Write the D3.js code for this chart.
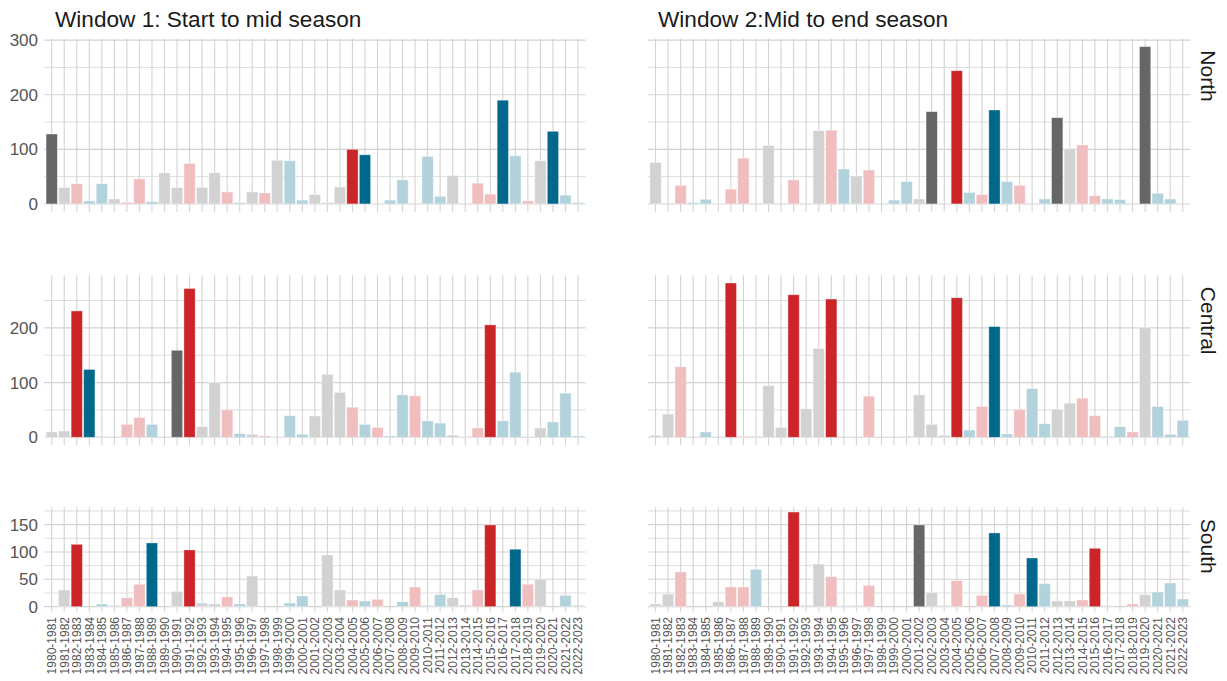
<html>
<script src="https://d3js.org/d3.v7.min.js"></script>
<body style="margin:0; background:white">
<svg height="681" width="1227" id="chart"></svg>
<script>

// seasons on the x axis
var seasons = ["1980-1981","1981-1982","1982-1983","1983-1984","1984-1985","1985-1986","1986-1987",
"1987-1988","1988-1989","1989-1990","1990-1991","1991-1992","1992-1993","1993-1994","1994-1995",
"1995-1996","1996-1997","1997-1998","1998-1999","1999-2000","2000-2001","2001-2002","2002-2003",
"2003-2004","2004-2005","2005-2006","2006-2007","2007-2008","2008-2009","2009-2010","2010-2011",
"2011-2012","2012-2013","2013-2014","2014-2015","2015-2016","2016-2017","2017-2018","2018-2019",
"2019-2020","2020-2021","2021-2022","2022-2023"];

// N = neutral, E = El Nino, L = La Nina
var phase = ["N","N","E","L","L","N","E","E","L","N","N","E","N","N","E","L","N","E","N","L","L",
"N","N","N","E","L","E","L","L","E","L","L","N","N","E","E","L","L","E","N","L","L","L"];

var w1North = [128,30,37,5.5,37,9,3,46,4,57,30,74,30,57,22,2.5,22,20,80,79,7,17,2.5,31,100,90,0,7,44,0,87,14,52,0,38,18,190,88,5.5,79,133,16,2.5];
var w2North = [76,0,34,2.5,8.5,1,27,84,0,107,0,44,0,134,135,64,51,62,0,7,41,9,169,0,244,21,17,172,41,34,0,9,158,101,108,15,9,8,0,288,19.5,9,0];
var w1Central = [9.7,11.5,231,124,1.8,0,23.6,36,23.6,0,159,272,19.4,100,50,6.7,5.5,2.4,0.5,39.4,5.5,39,115,82,55,23.6,18,2.4,77.6,76,30,26,4,1.8,17,205.5,30,119,0,17,28,80.6,2.4];
var w2Central = [3.6,42.4,129,0,9.7,0,282,1.8,1.8,94.5,18,260.6,52,162.4,252.7,0,0,75,0,0,1.8,77.6,23.6,3.6,255,13.3,56.4,202.4,6,51,89,24.8,51,62.4,71.5,39.4,1.8,19.4,9.7,200.6,56.4,5.5,31];
var w1South = [0,30.5,114,0,4.9,2.4,16.5,41,116.5,0,28,103.7,6.7,4.9,17.7,4.9,56,0,0,6.7,19.5,0,94.5,30.5,12.2,10.4,13.4,0,9,36,2.4,22,16.5,3,30.5,149.4,0,105,41,50,0,20.7,2.4];
var w2South = [4.9,23,63.4,0,0,9,36,36,68.3,0,0,173,2.4,78,55,1.8,2.4,39,0,0,0,149.4,25.6,2.4,47.6,0,20.7,134.8,3,23,89,42,10.4,10.4,12.2,106.7,1.8,0,4.9,22,26.8,43.3,14];

// seasons drawn in the dark shade (index into seasons)
var w1NorthTop = [0,24,25,36,40];
var w2NorthTop = [22,24,27,32,39];
var w1CentralTop = [2,3,10,11,35];
var w2CentralTop = [6,11,14,24,27];
var w1SouthTop = [2,8,11,35,37];
var w2SouthTop = [11,21,27,30,35];

var windowTitles = ["Window 1: Start to mid season", "Window 2:Mid to end season"];
var regions = ["North", "Central", "South"];
var yTicks = [[0,100,200,300], [0,100,200], [0,50,100,150]];
var yMinor = [[50,150,250], [50,150,250], [25,75,125,175]];

var darkCol = {"N": "#666666", "E": "#cc2529", "L": "#00688b"};
var lightCol = {"N": "#d2d2d2", "E": "#f0bebf", "L": "#b2d2dc"};

var svg = d3.select("#chart");

// panel geometry
var cols = [{x0: 44.2, x1: 585.5}, {x0: 648, x1: 1190.3}];
var rows = [
  {top: 38.8, bottom: 211.8, domain: [-14.4, 302.4]},
  {top: 275.3, bottom: 445, domain: [-14.1, 296.1]},
  {top: 507.3, bottom: 611.4, domain: [-8.65, 181.65]}
];

var panels = [
  [{vals: w1North, top: w1NorthTop}, {vals: w2North, top: w2NorthTop}],
  [{vals: w1Central, top: w1CentralTop}, {vals: w2Central, top: w2CentralTop}],
  [{vals: w1South, top: w1SouthTop}, {vals: w2South, top: w2SouthTop}]
];

var font = "Liberation Sans, Arial, sans-serif";

rows.forEach(function(r, ri) {
  var y = d3.scaleLinear().domain(r.domain).range([r.bottom, r.top]);

  cols.forEach(function(c, ci) {
    var x = d3.scaleBand().domain(seasons).range([c.x0, c.x1])
      .paddingInner(0.1).paddingOuter(0.15);
    var p = panels[ri][ci];
    var g = svg.append("g");

    // grid
    g.selectAll(".minor").data(yMinor[ri]).enter().append("line")
      .attr("x1", c.x0).attr("x2", c.x1)
      .attr("y1", function(d) { return y(d); })
      .attr("y2", function(d) { return y(d); })
      .style("stroke", "#dedede").style("stroke-width", 1);
    g.selectAll(".major").data(yTicks[ri]).enter().append("line")
      .attr("x1", c.x0).attr("x2", c.x1)
      .attr("y1", function(d) { return y(d); })
      .attr("y2", function(d) { return y(d); })
      .style("stroke", "#d3d3d3").style("stroke-width", 1.1);
    g.selectAll(".vgrid").data(seasons).enter().append("line")
      .attr("x1", function(d) { return x(d) + x.bandwidth() / 2; })
      .attr("x2", function(d) { return x(d) + x.bandwidth() / 2; })
      .attr("y1", r.top).attr("y2", r.bottom)
      .style("stroke", "#d3d3d3").style("stroke-width", 1.1);

    // bars
    g.selectAll(".bar").data(p.vals).enter().append("rect")
      .attr("x", function(d, i) { return x(seasons[i]); })
      .attr("width", x.bandwidth())
      .attr("y", function(d) { return y(d); })
      .attr("height", function(d) { return y(0) - y(d); })
      .attr("fill", function(d, i) {
        return p.top.indexOf(i) >= 0 ? darkCol[phase[i]] : lightCol[phase[i]];
      })
      .style("stroke", "white").style("stroke-opacity", 0.45).style("stroke-width", 0.8)
      .style("display", function(d) { return d > 0 ? null : "none"; });

    // y labels only on the left column
    if (ci == 0) {
      g.selectAll(".ylab").data(yTicks[ri]).enter().append("text")
        .attr("x", 38).attr("y", function(d) { return y(d); })
        .attr("dy", "0.36em")
        .attr("text-anchor", "end")
        .style("font-family", font).style("font-size", "17px").style("fill", "#555555")
        .text(function(d) { return d; });
    }

    // x labels only on bottom row
    if (ri == 2) {
      g.selectAll(".xlab").data(seasons).enter().append("text")
        .attr("transform", function(d) {
          return "translate(" + (x(d) + x.bandwidth() / 2 + 4.3) + "," + 617 + ") rotate(-90)";
        })
        .attr("text-anchor", "end")
        .style("font-family", font).style("font-size", "12px").style("fill", "#555555")
        .text(function(d) { return d; });
    }
  });

  // region strip label on the right
  svg.append("text")
    .attr("transform", "translate(1201," + (r.top + 11.5) + ") rotate(90)")
    .style("font-family", font).style("font-size", "21px").style("fill", "#1a1a1a")
    .text(regions[ri]);
});

// window titles
svg.selectAll(".title").data(windowTitles).enter().append("text")
  .attr("x", function(d, i) { return i == 0 ? 55 : 658; })
  .attr("y", 27)
  .style("font-family", font).style("font-size", "22.6px").style("fill", "#1a1a1a")
  .text(function(d) { return d; });

</script>
</body>
</html>
